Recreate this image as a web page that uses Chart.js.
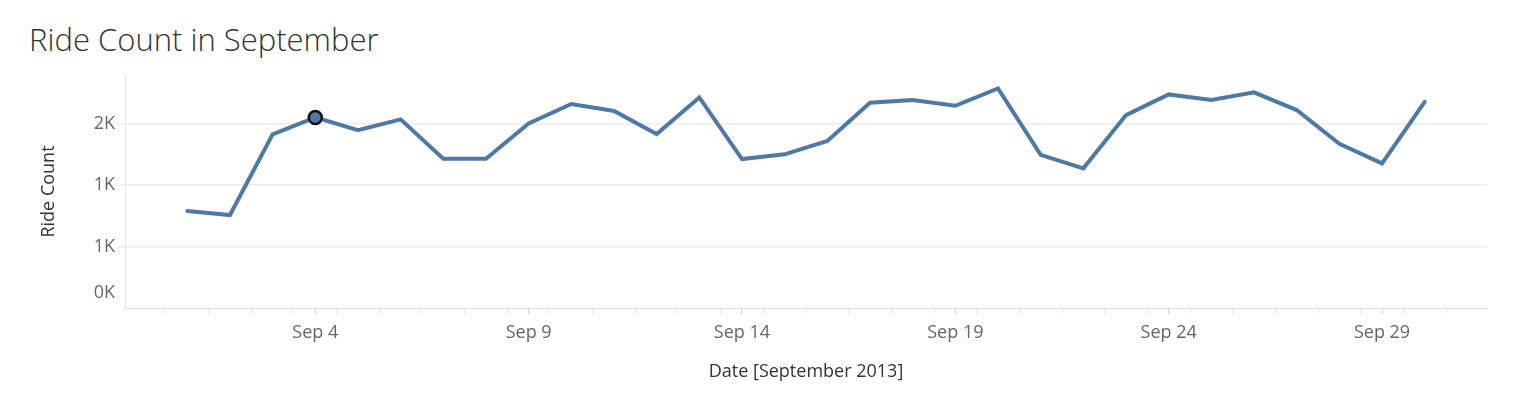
<!DOCTYPE html>
<html>
<head>
<meta charset="utf-8">
<title>Ride Count in September</title>
<script src="https://cdn.jsdelivr.net/npm/chart.js@4.4.0/dist/chart.umd.min.js"></script>
<style>
    html, body { margin: 0; padding: 0; background: #fff; }
    body { width: 1525px; height: 405px; position: relative; overflow: hidden; font-family: "Open Sans", sans-serif; }
    .chart-title { position: absolute; left: 29px; top: 24px; font-size: 31px; font-weight: 300; color: #333; line-height: 1; white-space: nowrap; }
    .chart-wrap { position: absolute; left: 0; top: 0; width: 1525px; height: 405px; }
</style>
</head>
<body>
<div class="chart-title">Ride Count in September</div>
<div class="chart-wrap"><canvas id="rideChart"></canvas></div>
<script>
// data (daily ride counts, Sept 2013)
const days = [1, 2, 3, 4, 5, 6, 7, 8, 9, 10, 11, 12, 13, 14, 15,
              16, 17, 18, 19, 20, 21, 22, 23, 24, 25, 26, 27, 28, 29, 30];
const rideCounts = [789, 756, 1412, 1550, 1447, 1534, 1214, 1214, 1501, 1659,
                    1602, 1415, 1713, 1211, 1250, 1358, 1669, 1691, 1645, 1786,
                    1245, 1136, 1569, 1737, 1691, 1754, 1610, 1336, 1176, 1677];
const highlightDay = 4;
const xTickDays = [4, 9, 14, 19, 24, 29];
const yTickValues = [0, 500, 1000, 1500];

const FONT = '"Open Sans", sans-serif';
const textGray = '#666';
const textDark = '#333';
const gridColor = '#ececec';
const lineBlue = '#4e79a7';

const fmtK = v => Math.round(v / 1000) + 'K';

// y labels drawn by hand so the 0K one can sit above the axis like the original
const yLabelPlugin = {
    id: 'yLabels',
    afterDraw(chart) {
        const { ctx, chartArea, scales: { y } } = chart;
        ctx.save();
        ctx.font = '18px ' + FONT;
        ctx.fillStyle = textGray;
        ctx.textAlign = 'right';
        ctx.textBaseline = 'middle';
        yTickValues.forEach(v => {
            const py = Math.min(y.getPixelForValue(v), chartArea.bottom - 15);
            ctx.fillText(fmtK(v), chartArea.left - 10, py);
        });
        ctx.restore();
    }
};

const ctx = document.getElementById('rideChart').getContext('2d');
new Chart(ctx, {
    type: 'line',
    data: {
        datasets: [{
            label: 'Ride Count',
            data: days.map((d, i) => ({ x: d, y: rideCounts[i] })),
            borderColor: lineBlue,
            borderWidth: 4,
            borderCapStyle: 'round',
            tension: 0,
            fill: false,
            pointRadius: c => days[c.dataIndex] === highlightDay ? 6.5 : 0,
            pointHoverRadius: c => days[c.dataIndex] === highlightDay ? 6.5 : 0,
            pointBackgroundColor: lineBlue,
            pointBorderColor: '#111',
            pointBorderWidth: 2.5
        }]
    },
    options: {
        responsive: true,
        maintainAspectRatio: false,
        animation: false,
        layout: { padding: { left: 38, right: 38, top: 75, bottom: 22 } },
        plugins: {
            legend: { display: false },
            tooltip: { enabled: false }
        },
        scales: {
            x: {
                type: 'linear',
                min: -0.46,
                max: 31.46,
                afterBuildTicks(scale) {
                    const vals = [];
                    for (let n = 0; n <= 30; n++) vals.push(n + 0.5);
                    scale.ticks = vals.concat(xTickDays).sort((a, b) => a - b).map(v => ({ value: v }));
                },
                afterFit(scale) { scale.height = 75; },
                ticks: {
                    autoSkip: false,
                    maxRotation: 0,
                    padding: 8,
                    color: textGray,
                    font: { family: FONT, size: 18 },
                    callback: v => xTickDays.includes(v) ? 'Sep ' + v : ''
                },
                grid: {
                    drawOnChartArea: false,
                    drawTicks: true,
                    tickLength: 6,
                    tickColor: c => xTickDays.includes(c.tick.value) ? '#d0d0d0' : '#e6e6e6'
                },
                border: { display: true, color: '#dcdcdc', dash: [2, 2], width: 1 },
                title: {
                    display: true,
                    text: 'Date [September 2013]',
                    color: textDark,
                    font: { family: FONT, size: 18 },
                    padding: 0
                }
            },
            y: {
                min: 0,
                max: 1895,
                afterBuildTicks(scale) {
                    scale.ticks = yTickValues.map(v => ({ value: v }));
                },
                afterFit(scale) { scale.width = 87; },
                ticks: { display: false },
                grid: {
                    color: c => c.tick.value === 0 ? 'rgba(0,0,0,0)' : gridColor,
                    tickColor: c => c.tick.value === 0 ? 'rgba(0,0,0,0)' : gridColor,
                    tickLength: 7,
                    lineWidth: 1.5
                },
                border: { display: true, color: '#e4e4e4', width: 1 },
                title: {
                    display: true,
                    text: 'Ride Count',
                    color: textDark,
                    font: { family: FONT, size: 18 },
                    padding: 0
                }
            }
        }
    },
    plugins: [yLabelPlugin]
});
</script>
</body>
</html>
